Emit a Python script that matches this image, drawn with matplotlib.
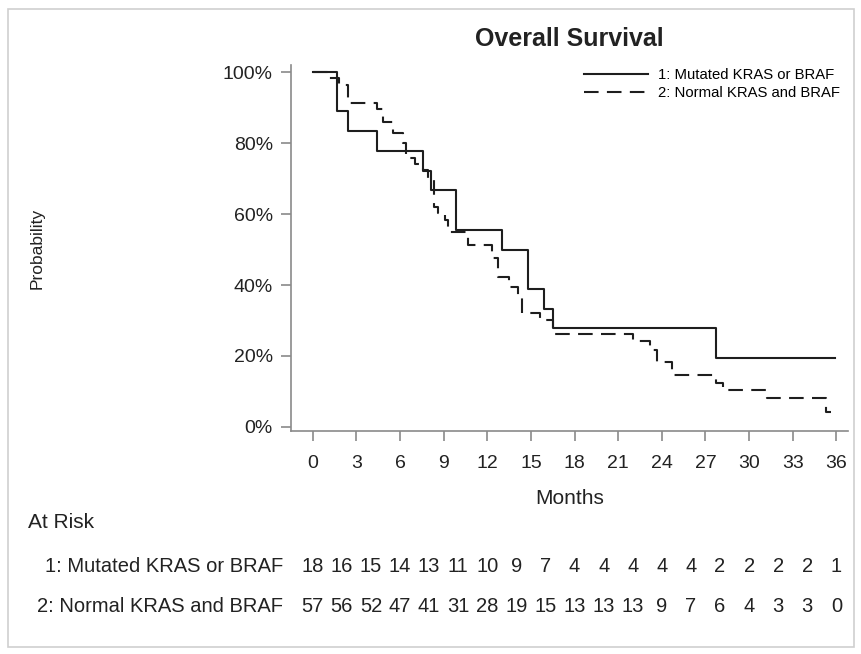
import matplotlib
matplotlib.use("Agg")
import matplotlib.pyplot as plt
from matplotlib.patches import Rectangle

plt.rcParams['font.family'] = ['Liberation Sans', 'DejaVu Sans']

# survival curves (months, % surviving)
mut_t = [0, 1.65, 2.4, 4.4, 7.6, 8.1, 9.85, 13.0, 14.8, 15.9, 16.5, 27.7, 35.9]
mut_s = [100, 88.9, 83.3, 77.8, 72.2, 66.7, 55.6, 50.0, 38.9, 33.3, 27.8, 19.4, 19.4]

norm_t = [0, 1.1, 1.8, 2.4, 4.4, 4.8, 5.5, 6.2, 6.4, 7.0, 7.6, 7.9, 8.3, 8.6, 9.1, 9.3,
          10.7, 12.3, 12.7, 13.5, 14.1, 14.4, 15.6, 16.5, 22.0, 23.2, 23.7, 24.7,
          27.7, 28.2, 31.2, 35.3, 35.6]
norm_s = [100, 98.2, 96.5, 91.2, 89.5, 86.0, 82.8, 80.0, 75.8, 74.0, 72.4, 70.1, 62.0,
          60.3, 58.3, 55.0, 51.3, 47.6, 42.3, 39.4, 36.3, 32.0, 30.0, 26.2, 24.3, 21.7,
          18.3, 14.6, 12.5, 10.4, 8.2, 4.2, 4.2]

labels = ["1: Mutated KRAS or BRAF", "2: Normal KRAS and BRAF"]

# number at risk every 2 months
risk_months = list(range(0, 37, 2))
risk_mut = [18, 16, 15, 14, 13, 11, 10, 9, 7, 4, 4, 4, 4, 4, 2, 2, 2, 2, 1]
risk_norm = [57, 56, 52, 47, 41, 31, 28, 19, 15, 13, 13, 13, 9, 7, 6, 4, 3, 3, 0]

x_ticks = list(range(0, 37, 3))
y_ticks = [0, 20, 40, 60, 80, 100]

W, H = 861, 654
fig = plt.figure(figsize=(W / 100, H / 100), dpi=100)
txt = '#222222'
grey = '#8a8a8a'

# light frame round the whole picture
fig.patches.append(Rectangle((8 / W, 1 - 647 / H), (854 - 8) / W, (647 - 9) / H,
                             transform=fig.transFigure, fill=False,
                             edgecolor='#cfcfcf', linewidth=1.2))

ax = fig.add_axes([291 / W, 1 - 430.5 / H, (848 - 291) / W, (430.5 - 65) / H])
ax.set_xlim(-1.5, 36.8)
ax.set_ylim(-1, 102)

l1, = ax.plot(mut_t, mut_s, drawstyle='steps-post', color='#1e1e1e', lw=1.5)
l2, = ax.plot(norm_t, norm_s, drawstyle='steps-post', color='#1e1e1e', lw=1.5,
              linestyle=(0, (7, 4)))

for s in ['top', 'right']:
    ax.spines[s].set_visible(False)
for s in ['left', 'bottom']:
    ax.spines[s].set_color(grey)
    ax.spines[s].set_linewidth(1.2)

ax.set_xticks(x_ticks)
ax.set_yticks(y_ticks)
ax.set_yticklabels([f"{v}%" for v in y_ticks])
ax.tick_params(axis='both', colors=grey, length=7, width=1.2, labelsize=14,
               labelcolor=txt, pad=6)
ax.tick_params(axis='x', pad=11)

ax.set_title("Overall Survival", fontsize=18, fontweight='bold', color=txt, pad=14)
ax.set_xlabel("Months", fontsize=15, color=txt, labelpad=12)
fig.text(37 / W, 1 - 248 / H, "Probability", rotation=90, fontsize=12.5,
         color=txt, ha='center', va='center')

fig.legend([l1, l2], labels, loc='upper right',
           bbox_to_anchor=(840 / W, 1 - 68 / H), frameon=False, fontsize=10.7,
           handlelength=4.3, handletextpad=0.7, labelspacing=0.25,
           borderpad=0, borderaxespad=0)

# at risk table
fig.text(28 / W, 1 - 523 / H, "At Risk", fontsize=15, color=txt, va='center')
for row, (lab, vals) in enumerate([(labels[0], risk_mut), (labels[1], risk_norm)]):
    yy = 1 - (566 + 41 * row) / H
    fig.text(283 / W, yy, lab, fontsize=14.5, color=txt, ha='right', va='center')
    for m, v in zip(risk_months, vals):
        xf = ax.transData.transform((m, 0))[0] / W
        fig.text(xf, yy, str(v), fontsize=14.5, color=txt, ha='center', va='center')

fig.savefig("out.png", dpi=100)
